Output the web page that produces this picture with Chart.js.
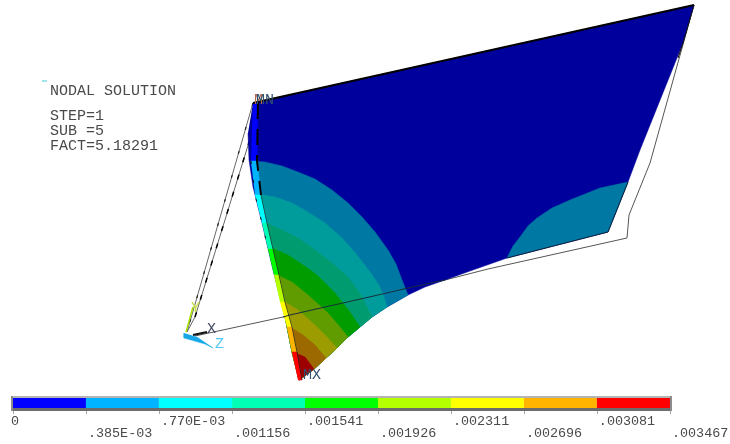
<!DOCTYPE html>
<html lang="en">

<head>
    <meta charset="UTF-8">
    <title>NODAL SOLUTION</title>
    <style>
        body { margin: 0; background: #fff; }
        canvas { display: block; }
    </style>
</head>

<body>
    <canvas id="myChart" width="730" height="444"></canvas>
    <script src="https://cdn.jsdelivr.net/npm/chart.js@4/dist/chart.umd.min.js"></script>
    <script>
        // contour levels and their labels
        const levels = [0, .000385, .00077, .001156, .001541, .001926, .002311, .002696, .003081, .003467]
        const levelLabels = ['0', '.385E-03', '.770E-03', '.001156', '.001541', '.001926', '.002311', '.002696', '.003081', '.003467']
        const legendColors = ['#0000ff', '#00b4ff', '#00ffff', '#00ffb4', '#00ff00', '#b4ff00', '#ffff00', '#ffb400', '#ff0000']
        const shadedColors = ['#00009c', '#0078a4', '#009c9c', '#009c70', '#009c00', '#609c00', '#9c9c00', '#9c6800', '#9c0000']

        const infoLines = ['NODAL SOLUTION', 'STEP=1', 'SUB =5', 'FACT=5.18291']

        // plate outline
        const bodyX = [253, 694, 683, 640, 628, 608, 507, 470, 445, 425, 408, 387, 372, 360, 348, 337, 326, 314, 299, 285, 273, 262, 253, 249, 248]
        const bodyY = [103, 5, 43, 150, 182, 232, 258, 271, 280, 287, 295, 307, 317, 327, 337, 348, 358, 369, 380, 317, 270, 223, 187, 160, 133]

        // plate edges near the tip, contour bands are closed along these
        const edgeBottomX = [408, 387, 372, 360, 348, 337, 326, 314, 299]
        const edgeBottomY = [295, 307, 317, 327, 337, 348, 358, 369, 380]
        const edgeLeftX = [299, 292, 285, 278, 272, 266, 258, 251]
        const edgeLeftY = [380, 352, 317, 282, 249, 223, 195, 162]

        // contour lines, outermost first
        const arcsX = [
            [250, 265, 282, 298, 315, 332, 348, 362, 375, 388, 396, 402, 408],
            [258, 275, 292, 308, 325, 342, 357, 370, 379, 384, 387],
            [266, 282, 298, 315, 332, 348, 361, 372],
            [272, 288, 303, 317, 335, 350, 360],
            [277, 292, 308, 328, 340, 348],
            [285, 298, 315, 327, 337],
            [290, 303, 315, 326],
            [293, 305, 314]
        ]
        const arcsY = [
            [161, 162, 166, 172, 179, 190, 203, 217, 232, 250, 264, 280, 295],
            [194, 197, 203, 212, 223, 238, 255, 272, 285, 297, 307],
            [223, 230, 238, 250, 263, 277, 295, 317],
            [248, 255, 265, 275, 293, 312, 327],
            [275, 282, 295, 313, 327, 337],
            [302, 310, 325, 337, 348],
            [327, 335, 345, 358],
            [352, 357, 369]
        ]

        // teal patch at the far corner
        const patchX = [507, 513, 520, 528, 537, 552, 570, 600, 628, 608]
        const patchY = [258, 246, 237, 226, 218, 208, 200, 188, 182, 232]

        // bright strip along the left side
        const stripLeftX = [253, 251, 255, 262, 268, 274, 280, 287, 292, 298]
        const stripRightX = [258, 257, 261, 267, 273, 279, 285, 292, 297, 302]
        const stripY = [103, 161, 195, 223, 249, 275, 302, 327, 352, 380]

        // undeformed shape
        const wireX = [253, 187, 195, 258]
        const wireY = [103, 332, 317, 113]
        const baseX = [195, 283, 290, 325, 365, 408, 445, 488, 627, 629, 650, 694]
        const baseY = [336, 317, 315, 307, 298, 288, 280, 269, 238, 215, 163, 5]

        // axis triad
        const triadLimeX = [186, 193]
        const triadLimeY = [332, 307]
        const triadBlueX = [184, 184, 205, 213, 197]
        const triadBlueY = [333, 338, 344, 348, 337]
        const triadBlackX = [193, 207]
        const triadBlackY = [335, 332]

        const pts = (xs, ys) => xs.map((x, i) => ({ x: x, y: ys[i] }))

        const datasets = []
        function poly(data, color) {
            datasets.push({ data: data, backgroundColor: color, borderColor: color, borderWidth: 0.5, fill: 'shape', showLine: true, pointRadius: 0, order: -datasets.length })
        }
        function line(data, color, width, dash) {
            datasets.push({ data: data, borderColor: color, borderWidth: width, borderDash: dash || [], fill: false, showLine: true, pointRadius: 0, order: -datasets.length })
        }

        line(pts(wireX, wireY), '#666666', 1)
        line(pts(wireX.slice(2), wireY.slice(2)), '#000000', 1.5, [5, 13])
        line(pts(wireX.slice(0, 2), wireY.slice(0, 2)), '#222222', 1.2, [3, 22])
        line(pts(baseX, baseY), '#555555', 1)
        poly(pts(bodyX, bodyY), shadedColors[0])
        poly(pts(patchX, patchY), shadedColors[1])
        arcsX.forEach((ax, i) => {
            const ay = arcsY[i]
            const endX = ax[ax.length - 1]
            const startY = ay[0]
            const bottom = pts(edgeBottomX, edgeBottomY).filter(p => p.x < endX)
            const left = pts(edgeLeftX, edgeLeftY).filter(p => p.y > startY)
            poly(pts(ax, ay).concat(bottom, left), shadedColors[i + 1])
        })
        for (let i = 0; i < stripY.length - 1; i++) {
            poly([
                { x: stripLeftX[i], y: stripY[i] }, { x: stripRightX[i], y: stripY[i] },
                { x: stripRightX[i + 1], y: stripY[i + 1] }, { x: stripLeftX[i + 1], y: stripY[i + 1] }
            ], legendColors[i])
        }
        line(pts(stripRightX.slice(2), stripY.slice(2)), '#222222', 0.8)
        line(pts(stripRightX.slice(0, 3), stripY.slice(0, 3)), '#000000', 2, [16, 10])
        line(pts(stripLeftX.slice(1, 5), stripY.slice(1, 5)), '#111111', 1, [3, 16])
        line(pts(baseX.slice(1, 7), baseY.slice(1, 7)), '#16303a', 1)
        line(pts([507, 608, 628], [258, 232, 182]), '#10203a', 1)
        line(pts([253, 694], [103, 5]), '#000000', 2)
        line(pts([694, 683, 678], [5, 43, 58]), '#111111', 1)
        line(pts(triadLimeX, triadLimeY), '#a8e000', 1.5)
        poly(pts(triadBlueX, triadBlueY), '#18a8e8')
        line(pts(triadBlackX, triadBlackY), '#111111', 2)
        line(pts([42, 47], [81, 81]), '#40c8d8', 1)

        // colour key, frame first and then one run per level
        line(pts([11, 672], [397, 397]), '#b4b4b4', 2)
        line(pts([11, 672], [409.5, 409.5]), '#6c6c6c', 3)
        line(pts([12, 12], [396, 411]), '#8c8c8c', 2)
        line(pts([671, 671], [396, 411]), '#8c8c8c', 2)
        legendColors.forEach((c, i) => {
            datasets.push({
                data: [{ x: levels[i], y: 403 }, { x: levels[i + 1], y: 403 }],
                xAxisID: 'xKey', borderColor: c, borderWidth: 10, fill: false, showLine: true,
                pointRadius: 0, order: -datasets.length
            })
        })

        const pxPerLevel = (670 - 13) / levels[levels.length - 1]

        const textPlugin = {
            id: 'ansysText',
            afterDraw(chart) {
                const ctx = chart.ctx
                const key = chart.scales.xKey
                ctx.save()
                ctx.textBaseline = 'alphabetic'
                ctx.textAlign = 'left'
                ctx.fillStyle = '#4a4a4a'
                ctx.font = '15px "Liberation Mono"'
                ctx.fillText(infoLines[0], 50, 95)
                ctx.fillText(infoLines[1], 50, 120)
                ctx.fillText(infoLines[2], 50, 135)
                ctx.fillText(infoLines[3], 50, 150)

                ctx.font = '13.4px "Liberation Mono"'
                levelLabels.forEach((label, i) => {
                    const x = key.getPixelForValue(levels[i])
                    ctx.fillStyle = '#a8a8a8'
                    ctx.fillRect(Math.round(x), 411, 1, 3)
                    ctx.fillStyle = '#4a4a4a'
                    ctx.fillText(label, i === 0 ? x - 2 : x + 2, i % 2 === 0 ? 425 : 437)
                })

                ctx.font = '15px "Liberation Mono"'
                ctx.fillStyle = '#b06a50'
                ctx.fillText('M', 254, 104)
                ctx.fillStyle = '#305070'
                ctx.fillText('MN', 256, 104)
                ctx.fillText('MX', 303, 379)
                ctx.fillStyle = '#404a60'
                ctx.fillText('X', 207, 333)
                ctx.fillStyle = '#c8e040'
                ctx.fillText('Y', 191, 312)
                ctx.fillStyle = '#50c8f8'
                ctx.fillText('Z', 215, 348)
                ctx.restore()
            }
        }

        const ctx = document.querySelector('#myChart').getContext('2d')
        const chart = new Chart(ctx, {
            type: 'scatter',
            data: { datasets: datasets },
            plugins: [textPlugin],
            options: {
                responsive: false,
                animation: false,
                layout: { padding: 0 },
                plugins: { legend: { display: false }, tooltip: { enabled: false } },
                scales: {
                    x: { type: 'linear', min: 0, max: 730, display: false },
                    y: { type: 'linear', min: 0, max: 444, reverse: true, display: false },
                    xKey: { type: 'linear', axis: 'x', min: -13 / pxPerLevel, max: (730 - 13) / pxPerLevel, display: false }
                }
            }
        })
    </script>
</body>

</html>
